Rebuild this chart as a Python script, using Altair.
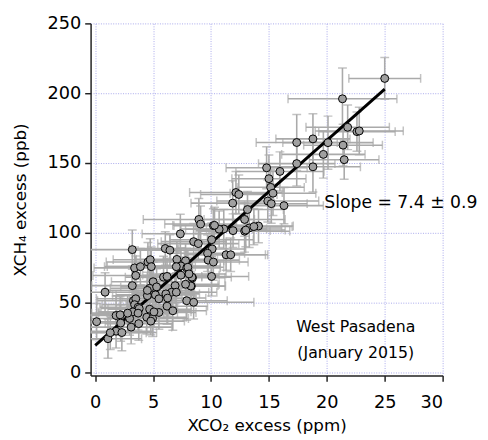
import altair as alt
import pandas as pd

# ---- data ----
xco2 = [25.0, 21.35, 21.8, 22.6, 22.8, 17.4, 18.8, 20.1, 21.4, 21.5,
        19.7, 17.4, 18.8, 14.8, 15.95, 15.0, 15.15, 15.35, 14.9, 15.2,
        16.3, 14.1, 12.15, 12.4, 11.87, 13.15, 12.9, 13.3, 13.7, 12.9,
        11.9, 11.1, 10.7, 10.2, 8.95, 9.1, 7.35, 10.05, 8.5, 8.9,
        6.05, 6.45, 3.2, 10.1, 9.7, 11.3, 11.7, 7.05, 7.8, 9.75,
        10.2, 4.55, 4.75, 4.84, 7.4, 7.9, 3.4, 3.9, 3.5, 7.4,
        10.05, 8.4, 5.0, 5.9, 6.2, 3.2, 6.9, 8.3, 4.7, 5.3,
        0.85, 6.6, 7.0, 4.5, 5.2, 6.1, 4.5, 5.5, 6.25, 7.9,
        8.5, 3.3, 3.5, 3.4, 3.7, 3.25, 4.7, 5.5, 6.2, 6.7,
        4.45, 4.95, 3.76, 1.8, 2.15, 3.1, 2.2, 1.8, 2.3, 1.1,
        0.12, 8.0, 8.35, 8.25, 5.07, 4.8, 3.8, 1.3, 10.3, 13.0,
        7.0, 8.1, 7.8, 2.97, 2.8, 3.7]
xch4 = [210.6, 196, 175.6, 172.5, 173, 164.7, 167.3, 164.6, 162.8, 152.4,
        156.2, 149.6, 147.3, 146.6, 144, 138.8, 132.6, 128.4, 122.8, 120.9,
        119.5, 104.9, 128.9, 127.5, 121.3, 116.7, 109.6, 103.5, 104.5, 101.2,
        101.6, 102.8, 102.6, 105.2, 109.6, 106.3, 99.3, 95.1, 93.7, 92.3,
        88.8, 87.6, 88, 88.5, 85.4, 84.3, 84.3, 81, 80, 80.5,
        79.1, 79.1, 80.8, 75.8, 76.3, 74.9, 74.9, 75.8, 69.5, 69.7,
        68.8, 67.8, 65, 68.3, 68.8, 62.2, 62.2, 61.8, 60.3, 61.3,
        57.5, 57.5, 57.5, 55, 55.6, 56.3, 58.8, 52.8, 53.3, 51.4,
        50.3, 51.4, 52.8, 48.6, 46.7, 43.4, 45.3, 43, 47.5, 44.2,
        39.6, 38.7, 35, 40.8, 41.3, 32.5, 35.4, 29.6, 28.6, 24.2,
        36.4, 75.4, 68.3, 62, 43.4, 36.8, 45.8, 28.5, 105.4, 102,
        75.8, 70.6, 63.2, 38.7, 42.5, 42.5]
xco2_err = [3.1, 4.7, 3.6, 3.3, 3.8, 3.5, 3.2, 3.9, 3.4, 3.0,
            3.6, 3.3, 4.1, 3.5, 3.8, 3.2, 2.9, 3.7, 4.4, 3.1,
            3.4, 3.0, 4.0, 3.3, 3.6, 3.1, 3.5, 2.8, 3.3, 3.9,
            3.2, 3.7, 2.9, 3.4, 4.8, 3.1, 3.3, 3.6, 2.8, 3.5,
            3.1, 3.4, 3.9, 2.9, 3.2, 3.6, 3.0, 3.5, 3.3, 2.7,
            3.0, 3.6, 3.2, 3.8, 3.4, 2.9, 3.5, 3.1, 3.7, 3.3,
            3.2, 2.8, 3.6, 3.3, 3.0, 3.5, 3.7, 2.9, 3.4, 3.1,
            3.8, 3.2, 3.5, 3.0, 3.4, 2.9, 3.6, 3.2, 3.3, 3.5,
            5.2, 3.1, 3.4, 2.8, 3.3, 3.0, 3.6, 3.2, 3.5, 2.9,
            3.4, 3.1, 2.9, 3.3, 3.0, 3.5, 2.8, 3.2, 3.0, 2.9,
            3.3, 3.1, 3.4, 3.0, 3.2, 2.9, 3.3, 3.1, 3.6, 3.4,
            3.0, 3.2, 2.9, 3.3, 3.1, 3.4]
xch4_err = [15, 22, 16, 14, 17, 20, 18, 19, 15, 14,
            17, 16, 18, 15, 14, 17, 13, 16, 15, 14,
            13, 12, 15, 14, 16, 13, 12, 14, 13, 15,
            12, 14, 13, 12, 15, 13, 14, 12, 13, 12,
            12, 11, 14, 12, 13, 11, 12, 13, 12, 11,
            13, 14, 15, 14, 13, 14, 15, 13, 14, 13,
            14, 13, 14, 15, 13, 14, 13, 14, 15, 13,
            14, 13, 14, 13, 14, 15, 13, 14, 13, 14,
            12, 13, 14, 13, 12, 14, 13, 12, 13, 14,
            12, 13, 12, 14, 13, 12, 13, 12, 13, 14,
            13, 12, 11, 10, 11, 10, 11, 12, 13, 12,
            11, 12, 11, 12, 13, 12]
fit_x = [0.0, 25.0]
fit_y = [19.5, 203.0]
x_ticks = [0, 5, 10, 15, 20, 25, 30]
y_ticks = [0, 50, 100, 150, 200, 250]
notes = ["Slope = 7.4 ± 0.9", "West Pasadena", "(January 2015)"]
note_x = [33.0, 22.5, 22.5]
note_y = [121.0, 32.4, 14.0]

# ---- tables ----
df = pd.DataFrame({"x": xco2, "y": xch4, "xe": xco2_err, "ye": xch4_err})
df["xlo"] = df["x"] - df["xe"]
df["xhi"] = df["x"] + df["xe"]
df["ylo"] = df["y"] - df["ye"]
df["yhi"] = df["y"] + df["ye"]
xcaps = pd.concat([pd.DataFrame({"x": df["xlo"], "y": df["y"]}),
                   pd.DataFrame({"x": df["xhi"], "y": df["y"]})])
ycaps = pd.concat([pd.DataFrame({"x": df["x"], "y": df["ylo"]}),
                   pd.DataFrame({"x": df["x"], "y": df["yhi"]})])
xbar_df = pd.DataFrame({"x": df["xlo"], "x2": df["xhi"], "y": df["y"]})
ybar_df = pd.DataFrame({"x": df["x"], "y": df["ylo"], "y2": df["yhi"]})
fit = pd.DataFrame({"x": fit_x, "y": fit_y})
nd = pd.DataFrame({"t": notes, "x": note_x, "y": note_y})

FONT = "DejaVu Sans"
xs = alt.Scale(domain=[-0.4, 30], nice=False, zero=False)
ys = alt.Scale(domain=[-2.1, 250], nice=False, zero=False)
GRAY = "#aaaaaa"

xaxis = alt.Axis(values=x_ticks, title="XCO₂ excess (ppm)", labelPadding=13,
                 titlePadding=6)
yaxis = alt.Axis(values=y_ticks, title="XCH₄ excess (ppb)", labelPadding=4,
                 titlePadding=18)
X = alt.X("x:Q", scale=xs, axis=xaxis)
Y = alt.Y("y:Q", scale=ys, axis=yaxis)

xbars = alt.Chart(xbar_df).mark_rule(color=GRAY, strokeWidth=1.6, clip=True).encode(
    x=X, x2="x2:Q", y=Y)
ybars = alt.Chart(ybar_df).mark_rule(color=GRAY, strokeWidth=1.6, clip=True).encode(
    x=X, y=Y, y2="y2:Q")
xcap = alt.Chart(xcaps).mark_tick(color=GRAY, orient="vertical", size=9,
                                  thickness=1.5, clip=True).encode(x=X, y=Y)
ycap = alt.Chart(ycaps).mark_tick(color=GRAY, orient="horizontal", size=9,
                                  thickness=1.5, clip=True).encode(x=X, y=Y)
pts = alt.Chart(df).mark_circle(size=65, color="#a0a0a0", stroke="black",
                                strokeWidth=1, opacity=1).encode(x=X, y=Y)
line = alt.Chart(fit).mark_line(color="black", strokeWidth=3).encode(x=X, y=Y)
txt_r = alt.Chart(nd.iloc[[0]]).mark_text(font=FONT, fontSize=17.5, align="right",
                                          baseline="middle", color="black").encode(
    x=X, y=Y, text="t:N")
txt_c = alt.Chart(nd.iloc[[1, 2]]).mark_text(font=FONT, fontSize=16, align="center",
                                             baseline="middle", color="black").encode(
    x=X, y=Y, text="t:N")

chart = alt.layer(xbars, ybars, xcap, ycap, line, pts, txt_r, txt_c).properties(
    width=358, height=358,
    autosize=alt.AutoSizeParams(type="none"),
    padding={"left": 84, "top": 12, "right": 38, "bottom": 62},
).configure_view(stroke=None).configure_axis(
    grid=True, gridColor="#a8a8ec", gridDash=[1, 1.5], gridWidth=1,
    domainColor="#222222", domainWidth=1.5, tickColor="#222222", tickWidth=1.5,
    tickSize=6, labelFont=FONT, labelFontSize=18, labelColor="black",
    titleFont=FONT, titleFontSize=17, titleFontWeight="normal", titleColor="black",
)

chart.save("out.html", embed_options={"renderer": "svg", "actions": False})
